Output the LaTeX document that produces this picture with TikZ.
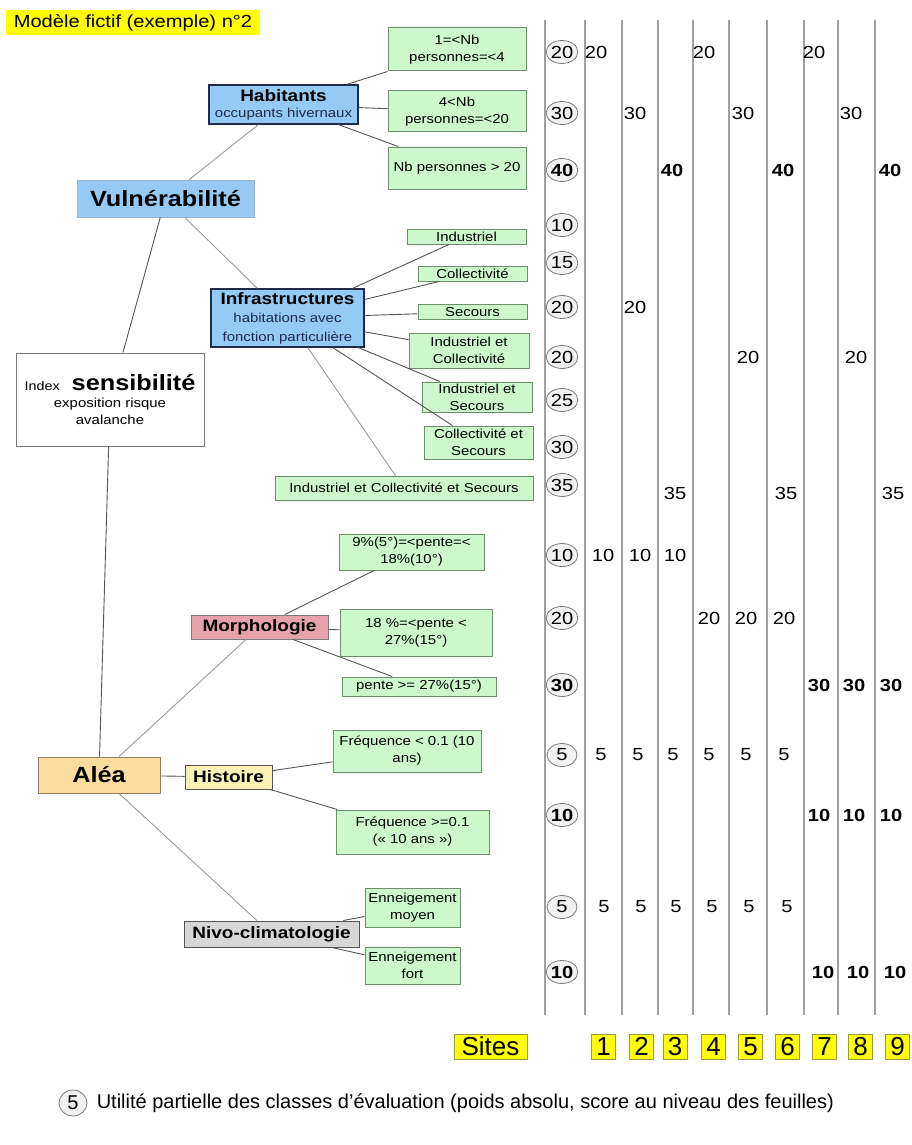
\documentclass[tikz,border=0pt]{standalone}
\usepackage{fontspec}
\setmainfont[FakeStretch=1.15]{Liberation Sans}
\newfontfamily\sitefont{Liberation Sans}
\usetikzlibrary{shapes.geometric, positioning}
\definecolor{cyel}{HTML}{FFFF00}
\definecolor{cblue}{HTML}{94CAF4}
\definecolor{cnavy}{HTML}{1E2C4C}
\definecolor{cbluegrey}{HTML}{9AB4CC}
\definecolor{cleaf}{HTML}{CCF8CC}
\definecolor{cleafline}{HTML}{6E8E6E}
\definecolor{cpink}{HTML}{E6A2AA}
\definecolor{cwheat}{HTML}{F9DD9F}
\definecolor{cpale}{HTML}{FCF1B4}
\definecolor{cnivo}{HTML}{D7D7D7}
\definecolor{cline}{HTML}{555555}
\definecolor{clight}{HTML}{9A9A9A}
\definecolor{cframe}{HTML}{7A7A7A}
\definecolor{cscore}{HTML}{F2F2F2}
\definecolor{ccol}{HTML}{A0A0A0}
\definecolor{csite}{HTML}{9A9A40}
\newcommand{\fleaf}{\fontsize{13}{17}\selectfont}
\newcommand{\fmid}{\fontsize{16.5}{18}\selectfont\bfseries}
\newcommand{\fbig}{\fontsize{22}{24}\selectfont\bfseries}
\newcommand{\fnum}{\fontsize{17.5}{19}\selectfont}
\tikzset{
  every picture/.style={line width=0.8pt},
  box/.style={draw=#1, align=center, inner sep=0pt, line width=1pt},
  box/.default=cframe,
  leaf/.style={box=cleafline, fill=cleaf, font=\fleaf},
  crit/.style={box=cnavy, fill=cblue, line width=1.3pt},
  link/.style={draw=cline, line width=0.9pt},
  linklight/.style={draw=clight, line width=0.9pt},
  title/.style={fill=cyel, inner sep=0pt, minimum width=254pt, minimum height=25pt, font=\fontsize{17.5}{19}\selectfont},
  score/.style={ellipse, draw=cframe, fill=cscore, inner sep=0pt, minimum width=30pt, minimum height=23pt, font=\fnum},
  val/.style={inner sep=0pt, font=\fnum},
  colline/.style={draw=ccol, line width=1.1pt},
  sitebox/.style={box=csite, fill=cyel, minimum height=25pt, font=\sitefont\fontsize{26}{28}\selectfont},
}

\begin{document}
\begin{tikzpicture}[x=1pt, y=-1pt]
  \useasboundingbox (0,0) rectangle (912,1145);
  \node[title] (titre) at (133,22.5) {Modèle fictif (exemple) n°2};
  % columns of the sites
  \foreach \x in {545,585,622,658,693,729,767,804,838,875} \draw[colline] (\x,20) -- (\x,1015);
  \foreach \x [count=\c] in {603,640,675,711,748,786,821,856,893} \coordinate (col\c) at (\x,0);
  % root and criteria
  \node[box, minimum width=188pt, minimum height=93pt, font=\fleaf] (index) at (110,399.5)
    {{\fontsize{12.5}{15}\selectfont Index}\hspace{12pt}{\fbig sensibilité}\\exposition risque\\avalanche};
  \node[crit, draw=cbluegrey, line width=1pt, minimum width=177pt, minimum height=37pt, font=\fbig] (vuln) at (165.5,198.5) {Vulnérabilité};
  \node[box=cframe!80!orange, fill=cwheat, minimum width=122pt, minimum height=36pt, font=\fbig] (alea) at (99,775) {Aléa};
  % vulnerability
  \node[crit, minimum width=149pt, minimum height=39pt, font=\fontsize{13}{16}\selectfont] (hab) at (283.5,104.5)
    {{\fmid Habitants}\\\textcolor{cnavy}{occupants hivernaux}};
  \node[leaf, minimum width=138pt, minimum height=43pt] (h1) at (457,49.5) {1=<Nb\\personnes=<4};
  \node[leaf, minimum width=138pt, minimum height=41pt] (h2) at (457,111.5) {4<Nb\\personnes=<20};
  \node[leaf, minimum width=138pt, minimum height=42pt] (h3) at (457,168) {Nb personnes > 20};
  \node[crit, minimum width=153pt, minimum height=58pt, font=\fontsize{13}{18.5}\selectfont] (infra) at (287.5,318)
    {{\fmid Infrastructures}\\\textcolor{cnavy}{habitations avec}\\\textcolor{cnavy}{fonction particulière}};
  \node[leaf, minimum width=119pt, minimum height=15pt] (i1) at (466.5,236.5) {Industriel};
  \node[leaf, minimum width=109pt, minimum height=15pt] (i2) at (472.5,273.5) {Collectivité};
  \node[leaf, minimum width=109pt, minimum height=15pt] (i3) at (472.5,312) {Secours};
  \node[leaf, minimum width=120pt, minimum height=35pt] (i4) at (469,350.5) {Industriel et\\Collectivité};
  \node[leaf, minimum width=110pt, minimum height=30pt] (i5) at (477,397) {Industriel et\\Secours};
  \node[leaf, minimum width=109pt, minimum height=33pt] (i6) at (478.5,442.5) {Collectivité et\\Secours};
  \node[leaf, minimum width=258pt, minimum height=24pt] (i7) at (404,488) {Industriel et Collectivité et Secours};
  % hazard
  \node[box, fill=cpink, minimum width=137pt, minimum height=24pt, font=\fmid] (morph) at (259.5,627) {Morphologie};
  \node[leaf, minimum width=145pt, minimum height=36pt] (m1) at (411.5,552) {9\%(5°)=<pente=<\\18\%(10°)};
  \node[leaf, minimum width=152pt, minimum height=47pt] (m2) at (416,632.5) {18 \%=<pente <\\27\%(15°)};
  \node[leaf, minimum width=154pt, minimum height=19pt] (m3) at (419,686.5) {pente >= 27\%(15°)};
  \node[box=cframe!70!black, fill=cpale, minimum width=87pt, minimum height=24pt, font=\fmid] (hist) at (228.5,777) {Histoire};
  \node[leaf, minimum width=148pt, minimum height=42pt] (f1) at (407,751) {Fréquence < 0.1 (10\\ans)};
  \node[leaf, minimum width=153pt, minimum height=44pt] (f2) at (412.5,832) {Fréquence >=0.1\\(« 10 ans »)};
  \node[box=cframe!70!black, fill=cnivo, minimum width=175pt, minimum height=26pt, font=\fmid] (nivo) at (271.5,934) {Nivo-climatologie};
  \node[leaf, minimum width=95pt, minimum height=39pt] (e1) at (412.5,907.5) {Enneigement\\moyen};
  \node[leaf, minimum width=95pt, minimum height=37pt] (e2) at (412.5,965.5) {Enneigement\\fort};
  % links
  \draw[link] (vuln) -- (index); \draw[link] (index) -- (alea);
  \draw[linklight] (vuln) -- (hab); \draw[linklight] (vuln) -- (infra);
  \foreach \l in {h1,h2,h3} \draw[link] (hab) -- (\l);
  \foreach \n in {1,...,6} \draw[link] (infra) -- (i\n);
  \draw[linklight] (infra) -- (i7);
  \draw[linklight] (alea) -- (morph); \draw[link] (alea) -- (hist); \draw[linklight] (alea) -- (nivo);
  \foreach \l in {m1,m2,m3} \draw[link] (morph) -- (\l);
  \foreach \l in {f1,f2} \draw[link] (hist) -- (\l);
  \foreach \l in {e1,e2} \draw[link] (nivo) -- (\l);
  % partial utilities of the leaves
  \foreach \y/\s in {52/20, 113/30, 225/10, 263/15, 307/20, 357/20, 400/25, 447/30, 485/35, 555/10, 618/20, 755/5, 907/5}
    \node[score] (w\y) at (562,\y) {\s};
  \foreach \y/\s in {170/40, 685/30, 815/10, 972/10}
    \node[score, font=\fnum\bfseries] (w\y) at (562,\y) {\s};
  % scores of the sites
  \foreach \y/\dx/\v/\cs in {52/-7/20/{1,4,7}, 113/-5/30/{2,5,8}, 307/-5/20/{2}, 357/0/20/{5,8}, 493/0/35/{3,6,9},
      555/0/10/{1,2,3}, 618/-2/20/{4,5,6}, 755/-2/5/{1,2,3,4,5,6}, 907/1/5/{1,2,3,4,5,6}}
    \foreach \c in \cs \node[val, xshift=\dx pt] (v\y-\c) at (col\c |- 0,\y) {\v};
  \foreach \y/\dx/\v/\cs in {170/-3/40/{3,6,9}, 685/-2/30/{7,8,9}, 815/-2/10/{7,8,9}, 972/2/10/{7,8,9}}
    \foreach \c in \cs \node[val, font=\fnum\bfseries, xshift=\dx pt] (v\y-\c) at (col\c |- 0,\y) {\v};
  % sites
  \node[sitebox, minimum width=73pt] (sites) at (490.5,1046.5) {Sites};
  \foreach \x [count=\c] in {603.5,641.5,675,713.5,750.5,787.5,824.5,860.5,897.5}
    \node[sitebox, minimum width=24pt] (site\c) at (\x,1046.5) {\c};
  % legend
  \node[score, minimum width=28pt, minimum height=26pt, font=\sitefont\fontsize{20}{22}\selectfont] (leg) at (73,1103) {5};
  \node[inner sep=0pt, right=9pt of leg, font=\sitefont\fontsize{20}{22}\selectfont] (legtxt)
    {Utilité partielle des classes d’évaluation (poids absolu, score au niveau des feuilles)};
\end{tikzpicture}
\end{document}
